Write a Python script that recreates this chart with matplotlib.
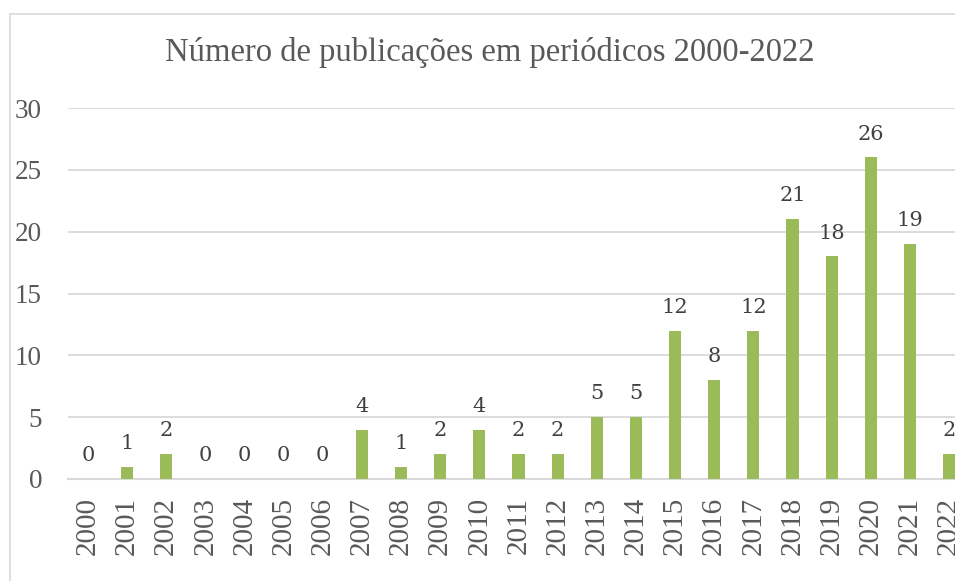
import matplotlib
matplotlib.use("Agg")
import matplotlib.pyplot as plt
from matplotlib.patches import Rectangle

# dados do grafico
anos = [str(a) for a in range(2000, 2023)]
publicacoes = [0, 1, 2, 0, 0, 0, 0, 4, 1, 2, 4, 2, 2, 5, 5, 12, 8, 12, 21, 18, 26, 19, 2]
yticks = [0, 5, 10, 15, 20, 25, 30]
titulo = "Número de publicações em periódicos 2000-2022"

W, H = 955, 581
fig = plt.figure(figsize=(W / 100, H / 100), dpi=100)

# borda do grafico (cortada a direita e embaixo)
fig.patches.append(Rectangle((10 / W, 0 - 0.05), 1.1, 1 - 14 / H + 0.05,
                             transform=fig.transFigure, fill=False,
                             edgecolor="#D9D9D9", linewidth=1.2))

ax = fig.add_axes([68.4 / W, 102 / H, 900.2 / W, 371 / H])
x = list(range(len(anos)))
ax.bar(x, publicacoes, width=0.31, color="#9BBB59", zorder=3)

for xi, v in zip(x, publicacoes):
    ax.annotate(str(v), (xi, v), xytext=(0, 10), textcoords="offset points",
                ha="center", va="bottom", fontsize=15, family="DejaVu Serif",
                color="#404040", zorder=4, annotation_clip=False)

ax.set_xlim(-0.5, len(anos) - 0.5)
ax.set_ylim(0, 30)
ax.set_yticks(yticks)
ax.set_xticks(x)
ax.set_xticklabels(anos, rotation=90, family="Liberation Serif", fontsize=21, color="#595959")
ax.set_yticklabels([str(t) for t in yticks], family="Liberation Serif", fontsize=19.5, color="#595959")
ax.tick_params(axis="y", length=0, pad=19)
ax.tick_params(axis="x", length=0, pad=13)
for s in ax.spines.values():
    s.set_visible(False)
ax.yaxis.grid(True, color="#D9D9D9", linewidth=1.3, zorder=0)
ax.set_axisbelow(True)
ax.axhline(0, color="#D9D9D9", linewidth=1.5, zorder=2, clip_on=False)

fig.text(490 / W, 1 - 53 / H, titulo, ha="center", va="center",
         family="Liberation Serif", fontsize=23.5, color="#595959")

fig.savefig("out.png", dpi=100)
